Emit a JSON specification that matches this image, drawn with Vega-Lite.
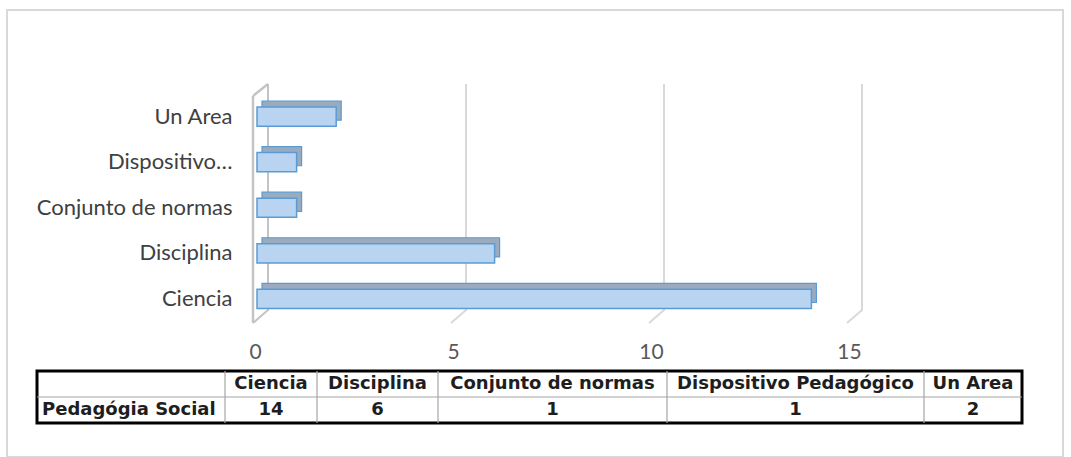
{
  "$schema": "https://vega.github.io/schema/vega-lite/v6.json",
  "autosize": {"type": "none"},
  "width": 1056,
  "height": 447,
  "padding": {"left": 7, "top": 10, "right": 8, "bottom": 0},
  "background": "white",
  "config": {"view": {"stroke": "#d9d9d9", "strokeWidth": 2}},
  "datasets": {
    "datos": [
      {"categoria": "Ciencia", "valor": 14, "orden": 1},
      {"categoria": "Disciplina", "valor": 6, "orden": 2},
      {"categoria": "Conjunto de normas", "valor": 1, "orden": 3},
      {"categoria": "Dispositivo Pedagógico", "valor": 1, "orden": 4},
      {"categoria": "Un Area", "valor": 2, "orden": 5}
    ],
    "ejes": [{"v": 0}, {"v": 5}, {"v": 10}, {"v": 15}],
    "cortes": [{"b": 0.5}, {"b": 1.5}, {"b": 2.5}, {"b": 3.5}, {"b": 4.5}]
  },
  "data": {"name": "datos"},
  "layer": [
    {
      "layer": [
        {
          "data": {"name": "ejes"},
          "mark": {"type": "rule", "strokeWidth": 2, "xOffset": 15, "yOffset": -32.6, "y2Offset": 12},
          "encoding": {
            "x": {"field": "v", "type": "quantitative", "title": null, "scale": {"domain": [0, 15], "range": [246, 840], "nice": false, "zero": false}},
            "y": {"datum": "Un Area", "type": "nominal", "bandPosition": 0.5},
            "y2": {"datum": "Ciencia", "bandPosition": 0.5},
            "color": {"condition": {"test": "datum.v == 0", "value": "#c4c4c4"}, "value": "#d9d9d9"}
          }
        },
        {
          "data": {"name": "ejes"},
          "mark": {"type": "rule", "strokeWidth": 2, "x2Offset": 15, "yOffset": 24, "y2Offset": 11},
          "encoding": {
            "x": {"field": "v", "type": "quantitative", "title": null},
            "x2": {"field": "v"},
            "y": {"datum": "Ciencia", "type": "nominal", "bandPosition": 0.5},
            "y2": {"datum": "Ciencia", "bandPosition": 0.5},
            "color": {"condition": {"test": "datum.v == 0", "value": "#c4c4c4"}, "value": "#d9d9d9"}
          }
        },
        {
          "data": {"values": [{}]},
          "mark": {"type": "rule", "color": "#c4c4c4", "strokeWidth": 2.5, "yOffset": -20.6, "y2Offset": 24},
          "encoding": {
            "x": {"datum": 0, "type": "quantitative"},
            "y": {"datum": "Un Area", "type": "nominal", "bandPosition": 0.5},
            "y2": {"datum": "Ciencia", "bandPosition": 0.5}
          }
        },
        {
          "data": {"values": [{}]},
          "mark": {"type": "rule", "color": "#c4c4c4", "strokeWidth": 2.5, "x2Offset": 15, "yOffset": -20.6, "y2Offset": -32.6},
          "encoding": {
            "x": {"datum": 0, "type": "quantitative"},
            "x2": {"datum": 0},
            "y": {"datum": "Un Area", "type": "nominal", "bandPosition": 0.5},
            "y2": {"datum": "Un Area", "bandPosition": 0.5}
          }
        },
        {
          "mark": {"type": "bar", "fill": "#9aabbd", "stroke": "#5b9bd5", "strokeWidth": 1.2, "xOffset": 9, "x2Offset": 11, "yOffset": -6},
          "encoding": {
            "x": {"field": "valor", "type": "quantitative", "title": null},
            "y": {"field": "categoria", "type": "nominal", "title": null}
          }
        },
        {
          "mark": {"type": "bar", "fill": "#b9d4f0", "stroke": "#5b9bd5", "strokeWidth": 1.5, "xOffset": 4, "x2Offset": 6},
          "encoding": {
            "x": {
              "field": "valor", "type": "quantitative", "title": null,
              "axis": {"orient": "bottom", "offset": -116, "ticks": false, "domain": false, "grid": false, "labelPadding": 0, "labelOffset": 2, "labelFlush": false, "format": "d", "values": [0, 5, 10, 15], "labelFont": "Lato", "labelFontSize": 21, "labelColor": "#595959"}
            },
            "y": {
              "field": "categoria", "type": "nominal", "title": null,
              "scale": {"domain": ["Un Area", "Dispositivo Pedagógico", "Conjunto de normas", "Disciplina", "Ciencia"], "range": [97, 298.5], "paddingInner": 0.58, "paddingOuter": 0},
              "axis": {"orient": "left", "offset": -226, "ticks": false, "domain": false, "grid": false, "labelPadding": 1, "labelFont": "Lato", "labelFontSize": 22, "labelColor": "#404040", "labelLimit": 400, "labelExpr": "datum.label == 'Dispositivo Pedagógico' ? 'Dispositivo…' : datum.label"}
            }
          }
        }
      ]
    },
    {
      "layer": [
        {
          "data": {"values": [{}]},
          "mark": {"type": "rect", "fill": "white", "stroke": "#000000", "strokeWidth": 3},
          "encoding": {
            "x": {"datum": -0.5, "type": "quantitative", "axis": null, "scale": {"type": "linear", "domain": [-0.5, 0.5, 1.5, 2.5, 3.5, 4.5, 5.5], "range": [30, 218, 310, 431, 660, 917, 1015], "zero": false, "nice": false}},
            "x2": {"datum": 5.5},
            "y": {"datum": -0.5, "type": "quantitative", "axis": null, "scale": {"domain": [-0.5, 1.5], "range": [361, 413], "zero": false, "nice": false}},
            "y2": {"datum": 1.5}
          }
        },
        {
          "data": {"name": "cortes"},
          "mark": {"type": "rule", "color": "#a6a6a6", "strokeWidth": 1.2},
          "encoding": {
            "x": {"field": "b", "type": "quantitative"},
            "y": {"datum": -0.5, "type": "quantitative"},
            "y2": {"datum": 1.5}
          }
        },
        {
          "data": {"values": [{}]},
          "mark": {"type": "rule", "color": "#a6a6a6", "strokeWidth": 1.2},
          "encoding": {
            "x": {"datum": -0.5, "type": "quantitative"},
            "x2": {"datum": 5.5},
            "y": {"datum": 0.5, "type": "quantitative"}
          }
        },
        {
          "mark": {"type": "text", "font": "DejaVu Sans", "fontSize": 18, "fontWeight": "bold", "color": "#1e1e1e", "align": "center", "baseline": "middle"},
          "encoding": {
            "x": {"field": "orden", "type": "quantitative"},
            "y": {"datum": 0, "type": "quantitative"},
            "text": {"field": "categoria"}
          }
        },
        {
          "mark": {"type": "text", "font": "DejaVu Sans", "fontSize": 18, "fontWeight": "bold", "color": "#1e1e1e", "align": "center", "baseline": "middle"},
          "encoding": {
            "x": {"field": "orden", "type": "quantitative"},
            "y": {"datum": 1, "type": "quantitative"},
            "text": {"field": "valor"}
          }
        },
        {
          "data": {"values": [{}]},
          "mark": {"type": "text", "font": "DejaVu Sans", "fontSize": 18, "fontWeight": "bold", "color": "#1e1e1e", "align": "left", "baseline": "middle", "dx": 5},
          "encoding": {
            "x": {"datum": -0.5, "type": "quantitative"},
            "y": {"datum": 1, "type": "quantitative"},
            "text": {"value": "Pedagógia Social"}
          }
        }
      ]
    }
  ],
  "resolve": {"scale": {"x": "independent", "y": "independent"}, "axis": {"x": "independent", "y": "independent"}}
}
